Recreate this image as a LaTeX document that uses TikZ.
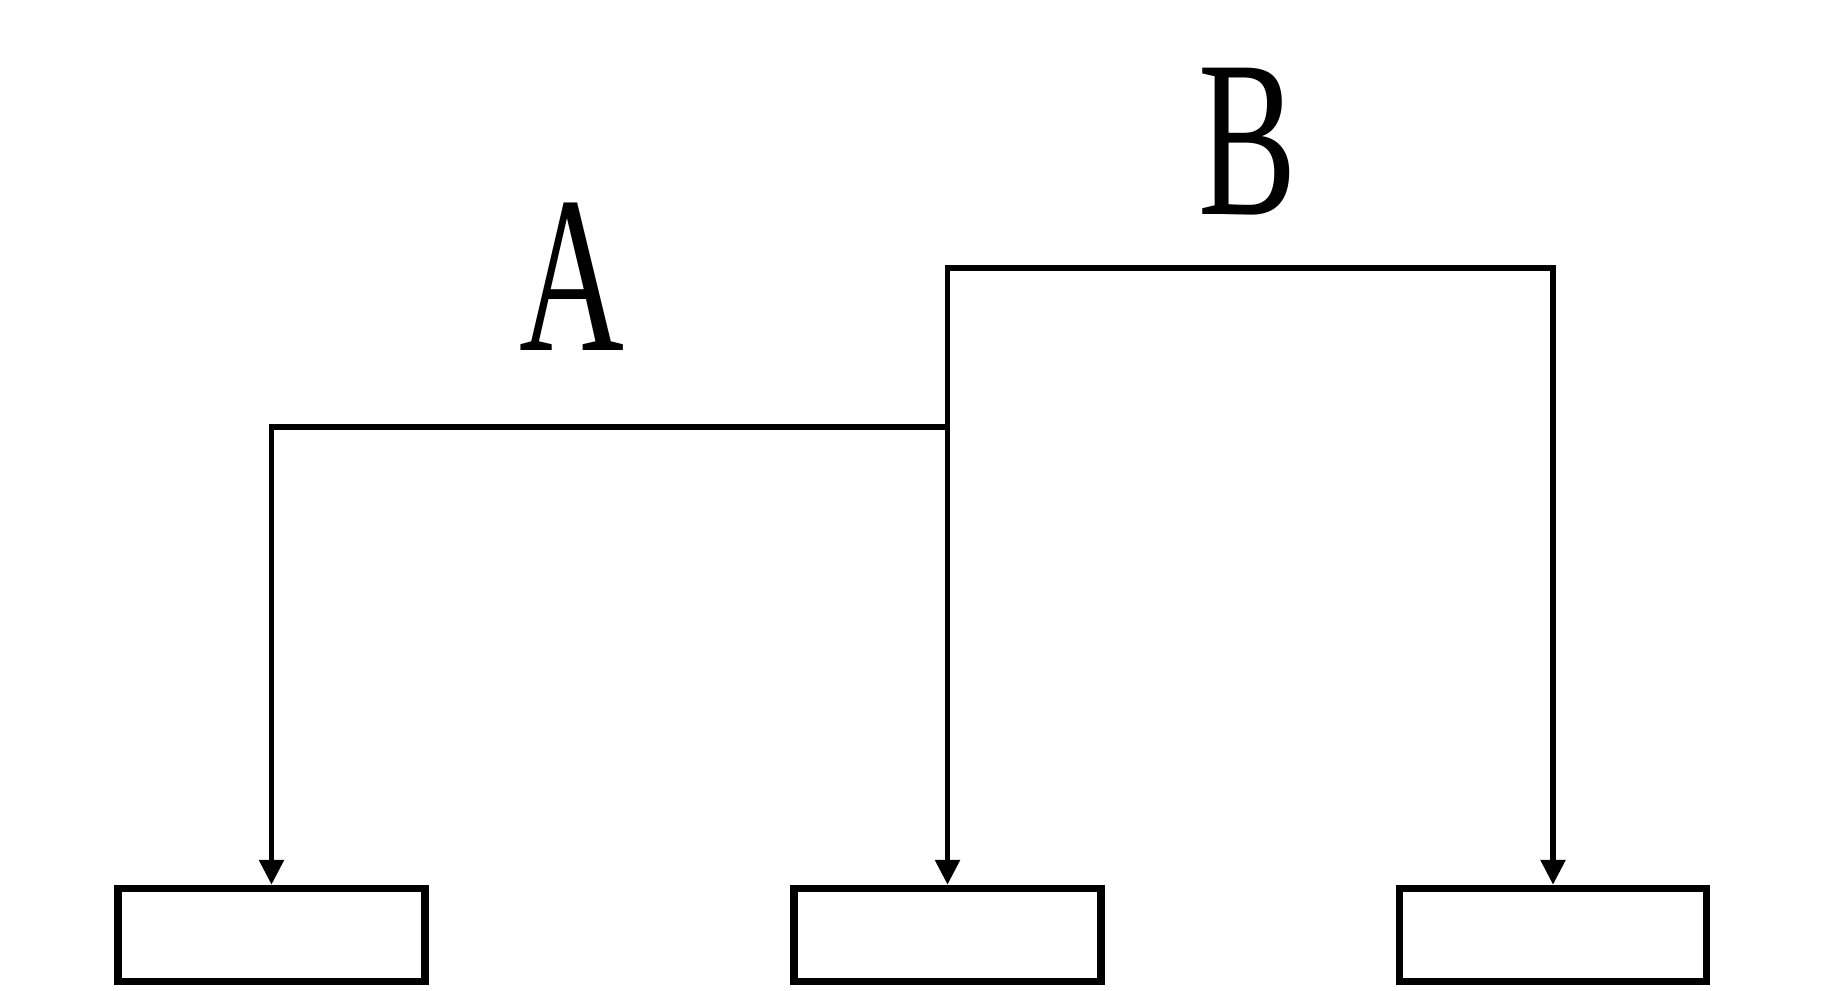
\documentclass[tikz,border=0pt]{standalone}
\usepackage{graphicx}
\usepackage{fontspec}
\newfontfamily\labfont{Liberation Serif}
\usetikzlibrary{arrows.meta}

\begin{document}
\begin{tikzpicture}[
    box/.style={rectangle, draw, line width=2.1pt, minimum width=3.07cm, minimum height=0.93cm},
    link/.style={line width=1.6pt, -{Triangle[length=0.25cm, width=0.24cm]}},
    lab/.style={font=\labfont\fontsize{63.6}{64}\selectfont, inner sep=0pt}
  ]
    \useasboundingbox (0,0) rectangle (18.34,9.91);
    % Boxes
    \node[box] (left) at (2.715,0.56) {};
    \node[box] (middle) at (9.475,0.56) {};
    \node[box] (right) at (15.53,0.56) {};
    % Joints
    \coordinate (bjoin) at (9.475,7.23);
    \coordinate (ajoin) at (9.475,5.64);
    % Labels
    \node[lab] (labA) at (5.72,7.14) {\scalebox{0.65}[1]{A}};
    \node[lab] (labB) at (12.48,8.49) {\scalebox{0.66}[1]{B}};
    % Arrows
    \draw[link, {Triangle[length=0.25cm, width=0.24cm]}-{Triangle[length=0.25cm, width=0.24cm]}] (middle.north) -- (bjoin) -| (right.north);
    \draw[link] (ajoin) -| (left.north);
\end{tikzpicture}
\end{document}
